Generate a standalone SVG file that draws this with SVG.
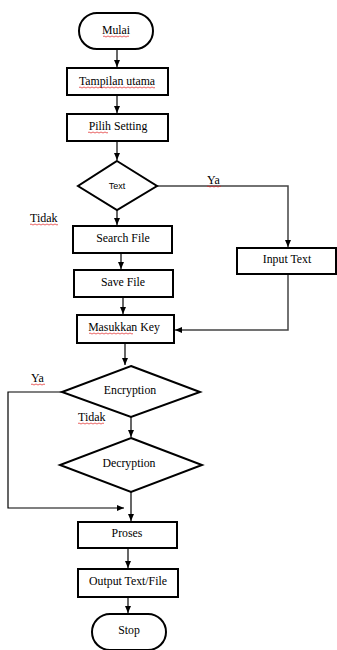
<svg xmlns="http://www.w3.org/2000/svg" width="337" height="650" viewBox="0 0 337 650">
<style>
.box{fill:#fff;stroke:#000;stroke-width:2}
.t{font-family:'Liberation Serif','DejaVu Serif',serif;font-size:11.8px;fill:#000;text-anchor:middle}
.ts{font-family:'Liberation Sans',Arial,sans-serif;font-size:9px;fill:#000;text-anchor:middle}
.lbl{font-family:'Liberation Serif','DejaVu Serif',serif;font-size:12px;fill:#000}
.c{fill:none;stroke:#000;stroke-width:1.2}
.cg{fill:none;stroke:#444;stroke-width:1.5}
.sq{fill:none;stroke:#e02020;stroke-width:0.7}
</style>
<defs>
<marker id="ah" markerWidth="8" markerHeight="8" refX="7" refY="4" orient="auto" markerUnits="userSpaceOnUse">
<path d="M0,1 L7,4 L0,7 Z" fill="#000"/>
</marker>
</defs>
<rect width="337" height="650" fill="#fff"/>
<g id="connectors">
<line class="c" x1="117" y1="49" x2="117" y2="67" marker-end="url(#ah)"/>
<line class="c" x1="117" y1="95" x2="117" y2="113" marker-end="url(#ah)"/>
<line class="c" x1="117" y1="141" x2="117" y2="160" marker-end="url(#ah)"/>
<line class="c" x1="117" y1="210" x2="117" y2="225" marker-end="url(#ah)"/>
<polyline class="cg" points="157,186 288,186 288,247" marker-end="url(#ah)"/>
<line class="c" x1="121" y1="253" x2="121" y2="269" marker-end="url(#ah)"/>
<line class="c" x1="123" y1="297" x2="123" y2="314" marker-end="url(#ah)"/>
<polyline class="cg" points="288,274 288,330 175,330" marker-end="url(#ah)"/>
<line class="c" x1="125" y1="343" x2="125" y2="365" marker-end="url(#ah)"/>
<line class="c" x1="131" y1="417" x2="131" y2="437" marker-end="url(#ah)"/>
<polyline class="c" points="62,392 8,392 8,508 124,508" marker-end="url(#ah)"/>
<line class="c" x1="131" y1="492" x2="131" y2="521" marker-end="url(#ah)"/>
<line class="c" x1="128" y1="548" x2="128" y2="568" marker-end="url(#ah)"/>
<line class="c" x1="128" y1="597" x2="128" y2="613" marker-end="url(#ah)"/>
</g>
<g id="mulai"><rect class="box" x="79" y="13" width="74" height="36" rx="18"/><text class="t" x="116" y="34">Mulai</text></g>
<g id="tampilan"><rect class="box" x="67" y="68" width="101" height="27"/><text class="t" x="117" y="85">Tampilan  utama</text></g>
<g id="pilih"><rect class="box" x="67" y="114" width="101" height="27"/><text class="t" x="118" y="130">Pilih Setting</text></g>
<g id="text-dec"><polygon class="box" points="117,161 157,186 117,210 78,186"/><text class="ts" x="117" y="189">Text</text></g>
<g id="search"><rect class="box" x="73" y="226" width="99" height="27"/><text class="t" x="123" y="242">Search  File</text></g>
<g id="save"><rect class="box" x="74" y="270" width="99" height="27"/><text class="t" x="123" y="286">Save File</text></g>
<g id="input"><rect class="box" x="237" y="248" width="99" height="26"/><text class="t" x="287" y="263">Input  Text</text></g>
<g id="masukkan"><rect class="box" x="77" y="315" width="97" height="28"/><text class="t" x="124" y="331">Masukkan  Key</text></g>
<g id="encryption"><polygon class="box" points="131,366 200,392 131,417 62,392"/><text class="t" x="130" y="394">Encryption</text></g>
<g id="decryption"><polygon class="box" points="131,438 202,465 131,492 60,465"/><text class="t" x="129" y="467">Decryption</text></g>
<g id="proses"><rect class="box" x="78" y="522" width="99" height="26"/><text class="t" x="127" y="537">Proses</text></g>
<g id="output"><rect class="box" x="78" y="569" width="100" height="28"/><text class="t" x="128" y="585">Output  Text/File</text></g>
<g id="stop"><rect class="box" x="92" y="614" width="74" height="36" rx="18"/><text class="t" x="129" y="634">Stop</text></g>
<g id="labels">
<text class="lbl" x="207" y="184">Ya</text>
<text class="lbl" x="30" y="222">Tidak</text>
<text class="lbl" x="31" y="382">Ya</text>
<text class="lbl" x="78" y="421">Tidak</text>
</g>
<g id="spellcheck">
<path class="sq" d="M103,36.5 q1,-1 2,0 t2,0 t2,0 t2,0 t2,0 t2,0 t2,0 t2,0 t2,0 t2,0 t2,0 t2,0 t2,0"/>
<path class="sq" d="M79,87.5 q1,-1 2,0 t2,0 t2,0 t2,0 t2,0 t2,0 t2,0 t2,0 t2,0 t2,0 t2,0 t2,0 t2,0 t2,0 t2,0 t2,0 t2,0 t2,0 t2,0 t2,0 t2,0 t2,0 t2,0 t2,0 t2,0 t2,0 t2,0 t2,0 t2,0 t2,0 t2,0 t2,0 t2,0 t2,0 t2,0 t2,0 t2,0 t2,0"/>
<path class="sq" d="M88,132.5 q1,-1 2,0 t2,0 t2,0 t2,0 t2,0 t2,0 t2,0 t2,0 t2,0 t2,0"/>
<path class="sq" d="M207,186.5 q1,-1 2,0 t2,0 t2,0 t2,0 t2,0 t2,0 t2,0"/>
<path class="sq" d="M30,224.5 q1,-1 2,0 t2,0 t2,0 t2,0 t2,0 t2,0 t2,0 t2,0 t2,0 t2,0 t2,0 t2,0 t2,0 t2,0"/>
<path class="sq" d="M89,333.5 q1,-1 2,0 t2,0 t2,0 t2,0 t2,0 t2,0 t2,0 t2,0 t2,0 t2,0 t2,0 t2,0 t2,0 t2,0 t2,0 t2,0 t2,0 t2,0 t2,0 t2,0 t2,0 t2,0"/>
<path class="sq" d="M31,384.5 q1,-1 2,0 t2,0 t2,0 t2,0 t2,0 t2,0 t2,0"/>
<path class="sq" d="M78,423.5 q1,-1 2,0 t2,0 t2,0 t2,0 t2,0 t2,0 t2,0 t2,0 t2,0 t2,0 t2,0 t2,0 t2,0"/>
</g>
</svg>
